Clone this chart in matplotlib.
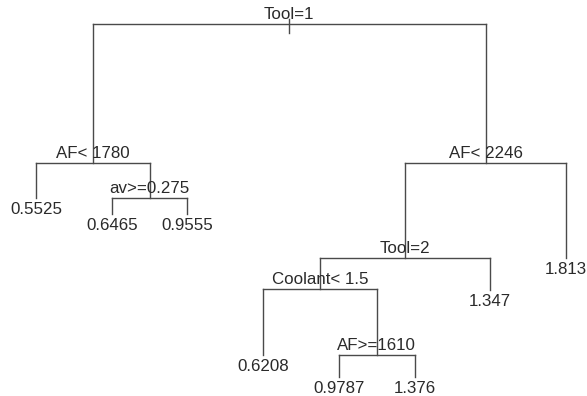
import matplotlib as mpl
mpl.use('Agg')
import matplotlib.pyplot as plt

# rpart tree: node labels, children (left, right) and node heights
labels = ["Tool=1", "AF< 1780", "AF< 2246", "0.5525", "av>=0.275",
          "0.6465", "0.9555", "Tool=2", "1.813", "Coolant< 1.5", "1.347",
          "0.6208", "AF>=1610", "0.9787", "1.376"]
children = {0: (1, 2), 1: (3, 4), 4: (5, 6), 2: (7, 8), 7: (9, 10),
            9: (11, 12), 12: (13, 14)}
heights = [1.000, 0.606, 0.606, 0.507, 0.507, 0.462, 0.462, 0.337,
           0.337, 0.249, 0.246, 0.062, 0.062, 0.000, 0.000]

# leaf order, left to right
leaf_order = [3, 5, 6, 11, 13, 14, 10, 8]
xpos = {}
for i, n in enumerate(leaf_order):
    xpos[n] = i + 1.0


def place(n):
    if n in xpos:
        return xpos[n]
    l, r = children[n]
    xpos[n] = (place(l) + place(r)) / 2
    return xpos[n]


place(0)

line_col = '#4a4a4a'
txt_col = '#2a2a2a'

fig = plt.figure(figsize=(5.87, 3.96), dpi=100)
ax = fig.add_axes([0, 0, 1, 1])
ax.set_xlim(0.5245, 8.278)
ax.set_ylim(-0.054, 1.068)
ax.axis('off')

plt.rcParams['font.family'] = ['Liberation Sans', 'DejaVu Sans']
fs = 12.2

# small tick at the root
ax.plot([xpos[0], xpos[0]], [heights[0] + 0.013, heights[0] - 0.025],
        color=line_col, lw=1.0)

for n, (l, r) in children.items():
    y = heights[n]
    ax.plot([xpos[l], xpos[r]], [y, y], color=line_col, lw=1.0)
    for c in (l, r):
        ax.plot([xpos[c], xpos[c]], [y, heights[c]], color=line_col, lw=1.0)
    ax.annotate(labels[n], (xpos[n], y), xytext=(0, 3.6),
                textcoords='offset points', ha='center', va='baseline',
                fontsize=fs, color=txt_col)

for n in leaf_order:
    ax.annotate(labels[n], (xpos[n], heights[n]), xytext=(0, -11.6),
                textcoords='offset points', ha='center', va='baseline',
                fontsize=fs, color=txt_col)

plt.savefig("out.png", dpi=100, facecolor='white')
